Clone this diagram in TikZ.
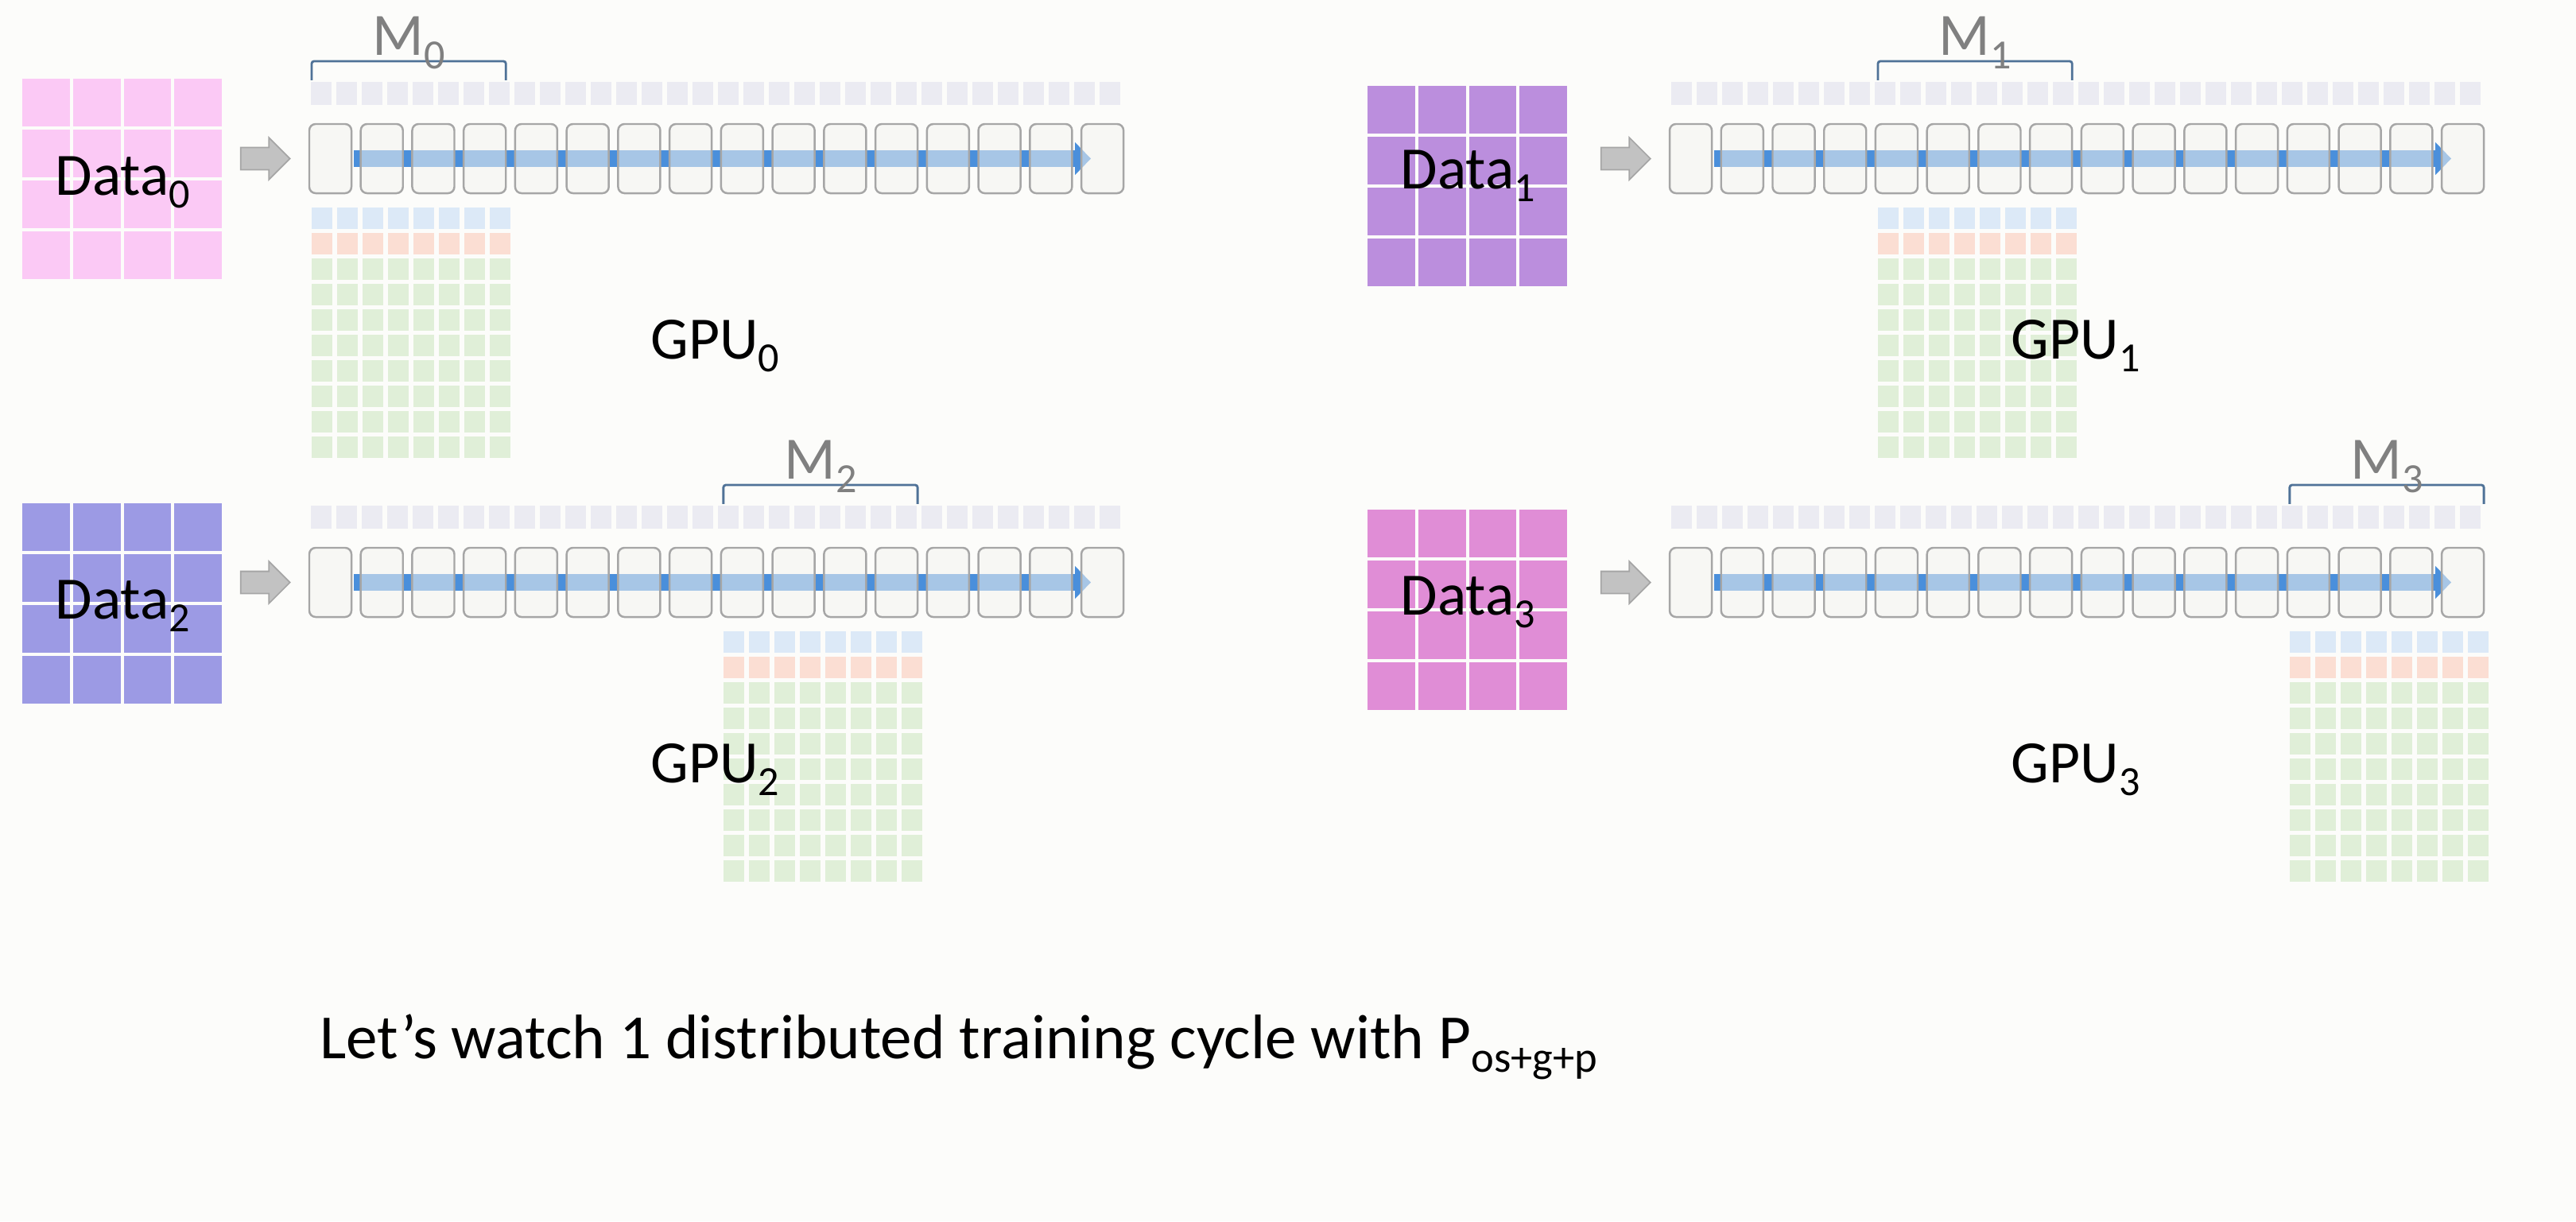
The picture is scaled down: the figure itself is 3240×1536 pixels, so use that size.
\documentclass[tikz,border=0pt]{standalone}
\usepackage{fontspec}
\setmainfont{Carlito}
\usetikzlibrary{arrows.meta,calc,positioning,shapes.arrows}
\definecolor{bgcol}{HTML}{FCFCFA}
\definecolor{dataA}{HTML}{FBC9F5}
\definecolor{dataB}{HTML}{BB8EDD}
\definecolor{dataC}{HTML}{9C9AE4}
\definecolor{dataD}{HTML}{E08DD6}
\definecolor{paramcol}{HTML}{EBEBF2}
\definecolor{boxcol}{HTML}{F4F4F0}
\definecolor{optA}{HTML}{DCE9F7}
\definecolor{optB}{HTML}{FBDED3}
\definecolor{optC}{HTML}{E0EFD8}
\definecolor{flowcol}{HTML}{4A8FDB}
\definecolor{bracecol}{HTML}{4F7297}
\newcommand{\lowidx}[1]{\raisebox{-0.22em}{\scalebox{0.69}{#1}}}
\pgfdeclarelayer{back}
\pgfdeclarelayer{flow}
\pgfsetlayers{back,flow,main}
\tikzset{
  lbl/.style={font=\fontsize{21.5}{26}\selectfont, inner sep=0pt, anchor=base west},
  mlbl/.style={lbl, anchor=base, text=black!50},
  layerbox/.style={draw=black!35, line width=0.7pt, fill=boxcol, fill opacity=0.55, rounded corners=0.08cm, minimum width=0.53cm, minimum height=0.87cm, inner sep=0pt, outer sep=0pt},
  inarrow/.style={single arrow, draw=black!35, fill=black!24, line width=0.5pt, minimum height=0.62cm, minimum width=0.51cm, single arrow head extend=0.125cm, inner xsep=0pt, inner ysep=0.13cm},
  flow/.style={draw=flowcol, line width=0.21cm, -{Triangle[width=0.4cm,length=0.2cm]}},
  brace/.style={draw=bracecol, line width=0.8pt, rounded corners=0.03cm},
}
\begin{document}
\begin{tikzpicture}[x=0.01cm, y=-0.01cm]
\useasboundingbox (0,0) rectangle (3240,1536);
\begin{pgfonlayer}{back}
  \fill[bgcol] (0,0) rectangle (3240,1536);
\end{pgfonlayer}
% one block per GPU
\foreach \gid/\ox/\oy/\dx/\dy/\ly/\col in {0/0/0/28/99/245/dataA, 1/1711/0/1720/108/237/dataB, 2/0/533/28/633/778/dataC, 3/1711/533/1720/641/773/dataD}{
  % data batch
  \foreach \ry in {0,...,3}
    \foreach \cx in {0,...,3}
      \fill[\col] ({\dx+\cx*63.75},{\dy+\ry*64}) rectangle ++(59.75,60);
  \node[lbl] (data\gid) at (\dx+41,\ly) {Data\lowidx{\gid}};
  % model layers
  \node[layerbox] (L\gid-1) at (\ox+415.5,\oy+199.5) {};
  \foreach \i [remember=\i as \j (initially 1)] in {2,...,16}
    \node[layerbox, right=0.117cm of L\gid-\j] (L\gid-\i) {};
  \node[inarrow, left=0.23cm of L\gid-1] (in\gid) {};
  \begin{pgfonlayer}{flow}
    \draw[flow] ([xshift=0.03cm]L\gid-1.east) -- ([xshift=0.12cm]L\gid-16.west);
  \end{pgfonlayer}
  % parameters
  \foreach \j in {0,...,31}
    \fill[paramcol] ({\ox+391+\j*32},\oy+103) rectangle ++(26,29);
  % partition M_k
  \pgfmathtruncatemacro\first{4*\gid+1}
  \pgfmathtruncatemacro\last{4*\gid+4}
  \draw[brace] ($(L\gid-\first.north west)+(3,-55)$) -- ($(L\gid-\first.north west)+(3,-79)$)
    -- ($(L\gid-\last.north east)+(0,-79)$) -- ($(L\gid-\last.north east)+(0,-55)$);
  \node[mlbl] (M\gid) at ($(L\gid-\first.north west)!0.5!(L\gid-\last.north east)+(1.5,-86)$) {M\lowidx{\gid}};
  % optimizer states
  \foreach \ry/\oc in {0/optA,1/optB,2/optC,3/optC,4/optC,5/optC,6/optC,7/optC,8/optC,9/optC}
    \foreach \cx in {0,...,7}
      \fill[\oc] ($(L\gid-\first.south west)+({3+\cx*32},{18+\ry*32})$) rectangle ++(26,27);
  \node[lbl] (gpu\gid) at (\ox+818,\oy+451) {GPU\lowidx{\gid}};
}
\node[lbl, font=\fontsize{22.5}{27}\selectfont] (caption) at (402,1331) {Let’s watch 1 distributed training cycle with P\lowidx{os+g+p}};
\end{tikzpicture}
\end{document}
